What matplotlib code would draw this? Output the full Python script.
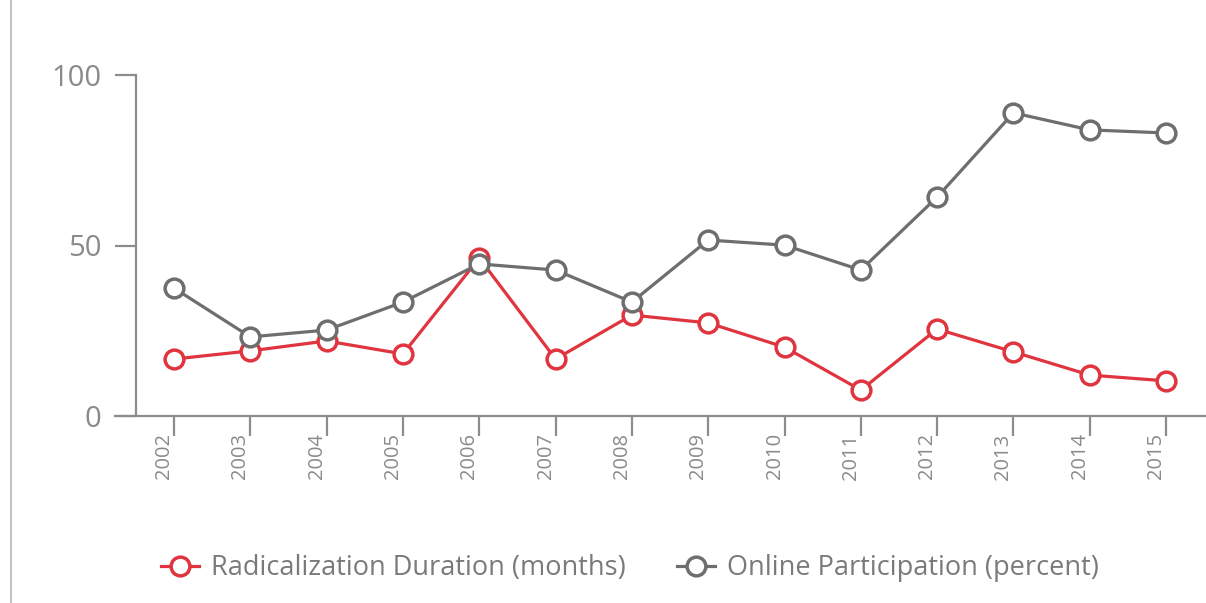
import numpy as np
import matplotlib
matplotlib.use("Agg")
from matplotlib import pyplot as plt
from matplotlib.lines import Line2D

plt.rcParams['font.family'] = ['Open Sans', 'DejaVu Sans']

years = [2002, 2003, 2004, 2005, 2006, 2007, 2008, 2009, 2010, 2011, 2012, 2013, 2014, 2015]
radicalization = [16.7, 19.1, 22.0, 18.2, 46.3, 16.7, 29.6, 27.3, 20.2, 7.6, 25.5, 18.8, 12.0, 10.3]
online = [37.5, 23.2, 25.2, 33.4, 44.6, 42.8, 33.4, 51.6, 50.1, 42.8, 64.2, 88.9, 83.9, 83.0]
yticks = [0, 50, 100]

red = '#e0343f'
grey = '#6e6e6e'
axis_col = '#8c8c8c'
text_col = '#8a8a8a'

W, H = 1206, 603
fig = plt.figure(figsize=(W / 100, H / 100), dpi=100)
ax = fig.add_axes([115 / W, 1 - 416 / H, (1205 - 115) / W, (416 - 75) / H])

style = dict(lw=2.3, marker='o', ms=13.5, mew=2.5, markerfacecolor='white', clip_on=False)
ax.plot(years, radicalization, color=red, label='Radicalization Duration (months)', zorder=3, **style)
ax.plot(years, online, color=grey, label='Online Participation (percent)', zorder=4, **style)

ax.set_ylim(0, 100)
ax.set_xlim(2001.227, 2015.51)

for s in ['top', 'right']:
    ax.spines[s].set_visible(False)
ax.spines['left'].set_position(('data', 2001.5))
for s in ['left', 'bottom']:
    ax.spines[s].set_color(axis_col)
    ax.spines[s].set_linewidth(1.6)

ax.set_yticks(yticks)
ax.set_yticklabels([str(v) for v in yticks])
ax.tick_params(axis='y', length=15, width=1.6, color=axis_col, labelcolor=text_col,
               labelsize=21, pad=10)
ax.set_xticks(years)
ax.set_xticklabels([str(y) for y in years], rotation=90, ha='right', va='top')
ax.tick_params(axis='x', length=14.5, width=1.6, color=axis_col, labelcolor=text_col,
               labelsize=14.5, pad=-2)

# thin page border on the left
fig.add_artist(Line2D([10.5 / W, 10.5 / W], [0, 1], color='#c4c4c4', lw=1.5))

fig.legend(loc='center', bbox_to_anchor=(630 / W, 1 - 568 / H), ncol=2, frameon=False,
           fontsize=19.5, labelcolor='#7a7a7a', handlelength=1.4, handletextpad=0.45,
           columnspacing=1.9, markerscale=1.0)

fig.savefig('out.png', dpi=100)
